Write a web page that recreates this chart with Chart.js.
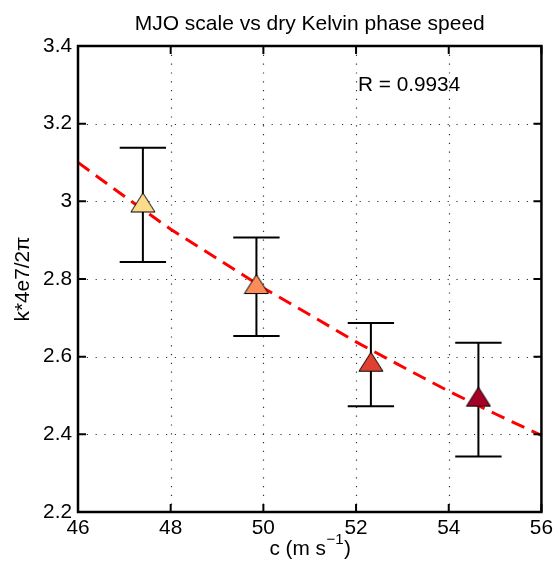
<!DOCTYPE html>
<html>
<head>
<meta charset="utf-8">
<script src="https://cdn.jsdelivr.net/npm/chart.js@4.4.1/dist/chart.umd.min.js"></script>
<style>
  html, body { margin: 0; padding: 0; background: #fff; }
  #wrap { width: 557px; height: 573px; }
</style>
</head>
<body>
<div id="wrap"><canvas id="myChart" width="557" height="573"></canvas></div>
<script>
// phase speed (m/s) and MJO scale for the four cases
const speeds = [47.40, 49.85, 52.32, 54.64];
const scales = [2.997, 2.787, 2.587, 2.497];
const errHigh = [3.138, 2.907, 2.687, 2.636];
const errLow = [2.844, 2.653, 2.472, 2.343];
const markerColors = ['#fedb8b', '#fc8d59', '#e0402f', '#a50026'];

// dashed fit curve
const fitX = [46, 47, 48, 49, 50, 51, 52, 53, 54, 55, 56];
const fitY = [3.100, 3.013, 2.928, 2.853, 2.777, 2.708, 2.638, 2.574, 2.511, 2.453, 2.397];

const xTicks = [46, 48, 50, 52, 54, 56];
const yTicks = [2.2, 2.4, 2.6, 2.8, 3.0, 3.2, 3.4];
const yTickLabels = ['2.2', '2.4', '2.6', '2.8', '3', '3.2', '3.4'];

const titleText = 'MJO scale vs dry Kelvin phase speed';
const rText = 'R = 0.9934';
const FONT = '"Liberation Sans", Arial, Helvetica, sans-serif';

function triangle(color) {
    const c = document.createElement('canvas');
    c.width = 26; c.height = 22;
    const g = c.getContext('2d');
    g.beginPath();
    g.moveTo(13, 1.5);
    g.lineTo(25, 20.5);
    g.lineTo(1, 20.5);
    g.closePath();
    g.fillStyle = color;
    g.fill();
    g.lineWidth = 1;
    g.strokeStyle = '#000';
    g.stroke();
    return c;
}

const frame = {
    id: 'frame',
    beforeDatasetsDraw(chart) {
        const ctx = chart.ctx, a = chart.chartArea;
        const x = chart.scales.x, y = chart.scales.y;
        ctx.save();
        // dotted grid
        ctx.strokeStyle = '#333';
        ctx.lineWidth = 1.2;
        ctx.setLineDash([1.2, 7.6]);
        ctx.beginPath();
        xTicks.slice(1, -1).forEach(v => {
            const p = Math.round(x.getPixelForValue(v)) + 0.5;
            ctx.moveTo(p, a.top); ctx.lineTo(p, a.bottom);
        });
        yTicks.slice(1, -1).forEach(v => {
            const p = Math.round(y.getPixelForValue(v)) + 0.5;
            ctx.moveTo(a.left, p); ctx.lineTo(a.right, p);
        });
        ctx.stroke();
        ctx.setLineDash([]);
        // error bars
        ctx.strokeStyle = '#000';
        ctx.lineWidth = 2;
        speeds.forEach((s, i) => {
            const px = x.getPixelForValue(s);
            const hi = y.getPixelForValue(errHigh[i]);
            const lo = y.getPixelForValue(errLow[i]);
            const half = x.getPixelForValue(s + 0.5) - px;
            ctx.beginPath();
            ctx.moveTo(px, hi); ctx.lineTo(px, lo);
            ctx.moveTo(px - half, hi); ctx.lineTo(px + half, hi);
            ctx.moveTo(px - half, lo); ctx.lineTo(px + half, lo);
            ctx.stroke();
        });
        ctx.restore();
    },
    afterDraw(chart) {
        const ctx = chart.ctx, a = chart.chartArea;
        const x = chart.scales.x, y = chart.scales.y;
        ctx.save();
        ctx.strokeStyle = '#000';
        ctx.lineWidth = 2;
        ctx.beginPath();
        xTicks.forEach(v => {
            const p = x.getPixelForValue(v);
            ctx.moveTo(p, a.bottom); ctx.lineTo(p, a.bottom - 8);
            ctx.moveTo(p, a.top); ctx.lineTo(p, a.top + 8);
        });
        yTicks.forEach(v => {
            const p = y.getPixelForValue(v);
            ctx.moveTo(a.left, p); ctx.lineTo(a.left + 8, p);
            ctx.moveTo(a.right, p); ctx.lineTo(a.right - 8, p);
        });
        ctx.stroke();
        ctx.lineWidth = 2.5;
        ctx.strokeRect(a.left, a.top, a.right - a.left, a.bottom - a.top);

        ctx.fillStyle = '#000';
        ctx.textBaseline = 'middle';
        // title, centred over the axes
        ctx.font = '21px ' + FONT;
        ctx.textAlign = 'center';
        ctx.fillText(titleText, (a.left + a.right) / 2, 24);
        // correlation label
        ctx.font = '20.8px ' + FONT;
        ctx.textAlign = 'left';
        ctx.fillText(rText, x.getPixelForValue(52.04), y.getPixelForValue(3.3));
        // x axis label with superscript
        ctx.font = '20.8px ' + FONT;
        const main = 'c (m s', sup = '\u22121', tail = ')';
        ctx.font = '20.8px ' + FONT;
        const w1 = ctx.measureText(main).width, w3 = ctx.measureText(tail).width;
        ctx.font = '15px ' + FONT;
        const w2 = ctx.measureText(sup).width;
        let sx = (a.left + a.right) / 2 - (w1 + w2 + w3) / 2;
        const ly = 549;
        ctx.font = '20.8px ' + FONT;
        ctx.fillText(main, sx, ly);
        ctx.font = '15px ' + FONT;
        ctx.fillText(sup, sx + w1 + 0.5, ly - 9);
        ctx.font = '20.8px ' + FONT;
        ctx.fillText(tail, sx + w1 + w2 + 1, ly);
        ctx.restore();
    }
};

const ctx = document.getElementById('myChart').getContext('2d');
const myChart = new Chart(ctx, {
    data: {
        datasets: [
            {
                type: 'scatter',
                label: 'cases',
                data: speeds.map((s, i) => ({x: s, y: scales[i]})),
                pointStyle: markerColors.map(triangle),
                pointRadius: 13,
                pointHoverRadius: 13
            },
            {
                type: 'line',
                label: 'fit',
                data: fitX.map((v, i) => ({x: v, y: fitY[i]})),
                borderColor: '#ff0000',
                borderWidth: 3,
                borderDash: [14, 8],
                pointRadius: 0,
                fill: false,
                tension: 0
            }
        ]
    },
    options: {
        responsive: false,
        animation: false,
        layout: { padding: { left: 0, right: 11.5, top: 46, bottom: 0 } },
        plugins: {
            legend: { display: false },
            tooltip: { enabled: false },
            title: { display: false }
        },
        scales: {
            x: {
                type: 'linear',
                min: 46, max: 56,
                afterBuildTicks: s => { s.ticks = xTicks.map(v => ({value: v})); },
                afterFit: s => { s.height = 61; },
                border: { display: false },
                grid: { display: false, drawTicks: false },
                ticks: { color: '#000', padding: 4, font: { family: FONT, size: 20.8 }, maxRotation: 0 }
            },
            y: {
                type: 'linear',
                min: 2.2, max: 3.4,
                afterBuildTicks: s => { s.ticks = yTicks.map(v => ({value: v})); },
                afterFit: s => { s.width = 78; },
                border: { display: false },
                grid: { display: false, drawTicks: false },
                ticks: {
                    color: '#000', padding: 6, font: { family: FONT, size: 20.8 },
                    callback: (v, i) => yTickLabels[i]
                },
                title: {
                    display: true,
                    text: 'k*4e7/2\u03C0',
                    color: '#000',
                    font: { family: FONT, size: 20.8 },
                    padding: { top: 11, bottom: 0 }
                }
            }
        }
    },
    plugins: [frame]
});
</script>
</body>
</html>
